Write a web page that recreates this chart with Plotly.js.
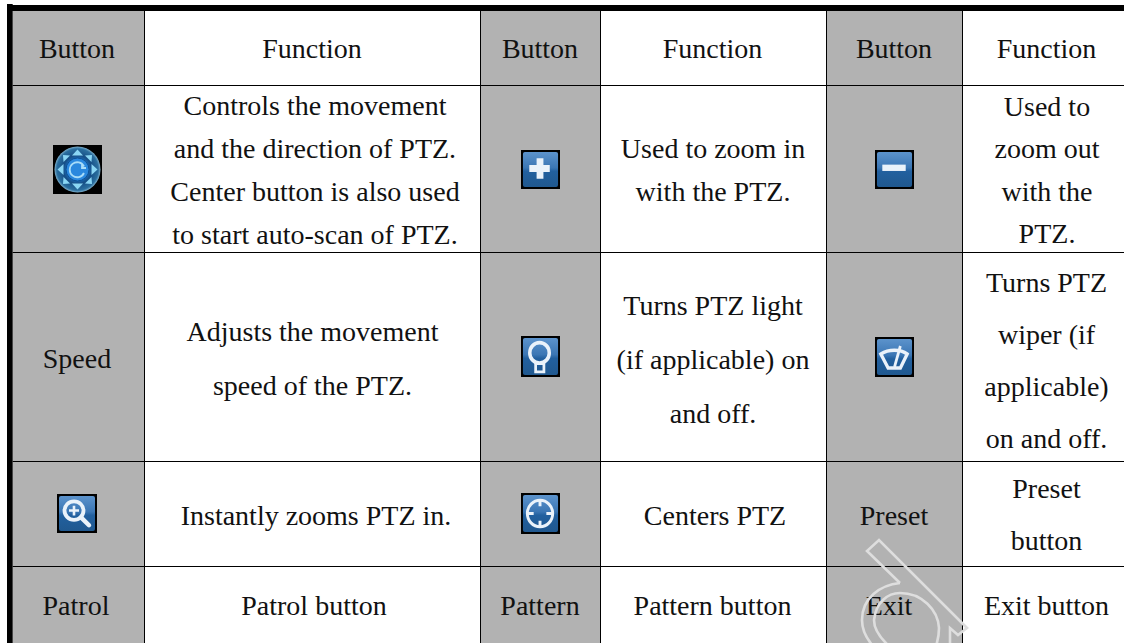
<!DOCTYPE html>
<html>
<head>
<meta charset="utf-8">
<script src="https://cdn.plot.ly/plotly-3.0.1.min.js"></script>
<style>html,body{margin:0;padding:0;background:#fff;overflow:hidden}#chart{width:1124px;height:643px}</style>
</head>
<body>
<div id="chart"></div>
<script>
// ---- table content ----
var headerRow = ["Button","Function","Button","Function","Button","Function"];
var row1 = [null,
  ["Controls the movement","and the direction of PTZ.","Center button is also used","to start auto-scan of PTZ."],
  null,
  ["Used to zoom in","with the PTZ."],
  null,
  ["Used to","zoom out","with the","PTZ."]];
var row2 = [["Speed"],
  ["Adjusts the movement","speed of the PTZ."],
  null,
  ["Turns PTZ light","(if applicable) on","and off."],
  null,
  ["Turns PTZ","wiper (if","applicable)","on and off."]];
var row3 = [null,
  ["Instantly zooms PTZ in."],
  null,
  ["Centers PTZ"],
  ["Preset"],
  ["Preset","button"]];
var row4 = [["Patrol"],["Patrol button"],["Pattern"],["Pattern button"],["Exit"],["Exit button"]];

// ---- layout of the table (pixels of the page) ----
var W = 1124, H = 643;
var colEdges = [12.7, 144.5, 480.5, 600.5, 826.5, 962.5, 1124];
var cellCenterX = [
  [77,312,540,712.5,894,1046.5],
  [77,315,540,713,894,1047],
  [77,312.5,540,713,894,1046.5],
  [77,316,540,715,894,1046.5],
  [76,314,540,712.5,889,1046.5]];
var rowEdges = [11, 85.5, 252.5, 461.5, 566.5, 643];
var cellCenterY = [
  [51,51,51,51,51,51],
  [172,172.5,172,172,172,172.5],
  [361,361,362,362,362,363],
  [518,518,518,518,518,517],
  [608,608,608,608,608,608]];
var lineStep = [
  [0,0,0,0,0,0],
  [0,42.7,0,43,0,42.5],
  [0,54,0,54,0,52],
  [0,0,0,0,0,52],
  [0,0,0,0,0,0]];
var rows = [headerRow.map(function(t){return [t];}), row1, row2, row3, row4];

var textX = [], textY = [], textS = [];
rows.forEach(function(r, ri){
  r.forEach(function(lines, ci){
    if(!lines) return;
    lines.forEach(function(t, li){
      textX.push(cellCenterX[ri][ci]);
      textY.push(cellCenterY[ri][ci] + (li - (lines.length-1)/2) * lineStep[ri][ci]);
      textS.push(t);
    });
  });
});

var shapes = [];
function rect(x0,y0,x1,y1,c,layer){
  shapes.push({type:'rect',xref:'x',yref:'y',x0:x0,y0:y0,x1:x1,y1:y1,fillcolor:c,line:{width:0},layer:layer||'below'});
}
function seg(x0,y0,x1,y1){
  shapes.push({type:'line',xref:'x',yref:'y',x0:x0,y0:y0,x1:x1,y1:y1,line:{color:'#000000',width:1},layer:'below'});
}
var GRAY = '#B2B2B2';
[[0,1],[2,3],[4,5]].forEach(function(p){ rect(colEdges[p[0]],rowEdges[0],colEdges[p[1]],H,GRAY); });
rowEdges.slice(1,5).forEach(function(y){ seg(colEdges[0],y,W,y); });
colEdges.slice(1,6).forEach(function(x){ seg(x,rowEdges[0],x,H); });
rect(7,4,12.7,H,'#000000');
rect(7,5,W,11,'#000000');

// watermark, above the text
function wm(path){
  shapes.push({type:'path',xref:'x',yref:'y',path:path,line:{color:'#DEDEDE',width:2.6},layer:'above'});
}
wm('M900,583 L867,551 L879,540 L967,628 L958,635 L950,628 L950,646');
wm('M900,583 C880,585 862,598 862,620 C862,630 866,638 873,646');
wm('M889,646 C878,636 874,628 874,620 C876,602 888,593 900,593 C922,593 938,610 939,628 C939,634 938,640 936,646');

// ---- icons ----
function svgUri(s, w, h){
  return 'data:image/svg+xml;base64,' + btoa('<svg xmlns="http://www.w3.org/2000/svg" width="'+w+'" height="'+h+'" viewBox="0 0 '+w+' '+h+'">'+s+'</svg>');
}
function blueBox(inner){
  return '<defs><linearGradient id="g" x1="0" y1="0" x2="0" y2="1">'+
    '<stop offset="0" stop-color="#5C93CC"/><stop offset="0.45" stop-color="#3B76B4"/><stop offset="0.55" stop-color="#22609F"/><stop offset="1" stop-color="#20588F"/></linearGradient></defs>'+
    '<rect width="40" height="40" fill="#000"/><rect x="2" y="2" width="36" height="36" rx="2" fill="url(#g)"/>'+inner;
}
var W_ = 'fill="none" stroke="#EAF2FA"';
var icPlus = blueBox('<path d="M19.5 8.5V29.5M8.5 19H29.5" '+W_+' stroke-width="7"/>');
var icMinus = blueBox('<rect x="7.5" y="15" width="24" height="6.5" fill="#EAF2FA"/>');
var icBulb = blueBox('<circle cx="19" cy="16.5" r="10" '+W_+' stroke-width="3.6"/><path d="M15 27H23.5V35H15Z" '+W_+' stroke-width="2.8"/>');
var icCenter = blueBox('<circle cx="19.5" cy="20" r="13" '+W_+' stroke-width="3"/><path d="M19.5 6V13M19.5 27V34M6 20H13M26 20H33" '+W_+' stroke-width="3"/>');
var icZoom = blueBox('<circle cx="17" cy="17" r="9.5" '+W_+' stroke-width="3.8"/><path d="M17 12V22M12 17H22" '+W_+' stroke-width="2.6"/><path d="M24 24L32 32" '+W_+' stroke-width="4.5" stroke-linecap="round"/>');
var icWiper = blueBox('<path d="M6 17C14 12 26 12 33 17L26 31H13.5Z" '+W_+' stroke-width="3.4"/><path d="M26 9L20 30" '+W_+' stroke-width="2.8"/>');
var icJoy =
  '<defs><radialGradient id="r" cx="50%" cy="50%" r="50%"><stop offset="0" stop-color="#2F8FE0"/><stop offset="0.42" stop-color="#1C72C4"/><stop offset="0.62" stop-color="#174F86"/><stop offset="0.9" stop-color="#2A6F9F"/><stop offset="1" stop-color="#7FB0CC"/></radialGradient></defs>'+
  '<rect width="49" height="49" fill="#000"/><circle cx="24.5" cy="24.5" r="23" fill="url(#r)"/>'+
  '<circle cx="24.5" cy="24.5" r="11.5" fill="#2A88DE" stroke="#0D4F92" stroke-width="1"/>'+
  '<path d="M31 21.5A7.5 7.5 0 1 0 31 28M29 19V23H33" fill="none" stroke="#A8DCF8" stroke-width="1.8"/>'+
  '<g fill="#8AD6F4"><path d="M24.5 4.5L30 10.5H19Z"/><path d="M24.5 44.5L30 38.5H19Z"/><path d="M4.5 24.5L10.5 19V30Z"/><path d="M44.5 24.5L38.5 19V30Z"/>'+
  '<path d="M10 10L17 10.5L10.5 17Z"/><path d="M39 10L32 10.5L38.5 17Z"/><path d="M10 39L17 38.5L10.5 32Z"/><path d="M39 39L32 38.5L38.5 32Z"/></g>';

function img(svg, w, h, x0, y0, x1, y1){
  return {source:svgUri(svg,w,h),xref:'x',yref:'y',x:x0,y:y0,sizex:x1-x0,sizey:y1-y0,xanchor:'left',yanchor:'top',sizing:'stretch',layer:'above'};
}
var images = [
  img(icJoy,49,49,53,145,102,194),
  img(icPlus,40,40,521,150,560,189),
  img(icMinus,40,40,875,150,914,189),
  img(icBulb,40,40,521,336,560,377),
  img(icWiper,40,40,875,337,914,377),
  img(icZoom,40,40,57,494,97,533),
  img(icCenter,40,40,521,493,560,534)
];

Plotly.newPlot('chart',[{
  type:'scatter',mode:'text',x:textX,y:textY,text:textS,textposition:'middle center',
  textfont:{family:'"Liberation Serif","Times New Roman",serif',size:28,color:'#111111'},
  hoverinfo:'skip',showlegend:false,cliponaxis:false
}],{
  width:W,height:H,autosize:false,margin:{l:0,r:0,t:0,b:0,pad:0},
  paper_bgcolor:'#FFFFFF',plot_bgcolor:'#FFFFFF',showlegend:false,
  xaxis:{range:[0,W],visible:false,fixedrange:true},
  yaxis:{range:[H,0],visible:false,fixedrange:true},
  shapes:shapes,images:images
},{displayModeBar:false,staticPlot:true});
</script>
</body>
</html>
